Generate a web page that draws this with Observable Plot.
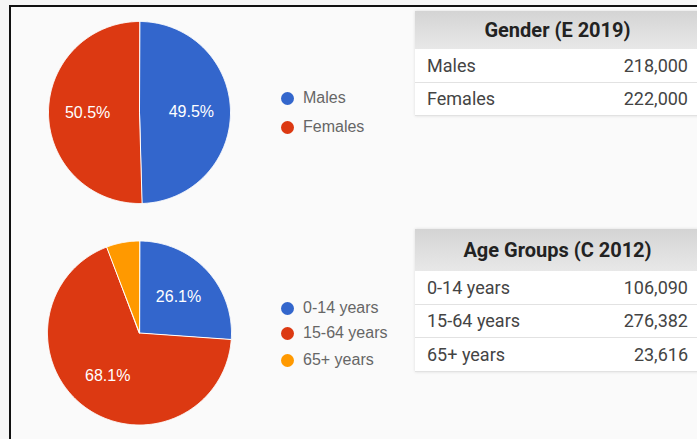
<!DOCTYPE html>
<html><head><meta charset="utf-8">
<script src="https://cdn.jsdelivr.net/npm/d3@7"></script>
<script src="https://cdn.jsdelivr.net/npm/@observablehq/plot@0.6"></script>
<style>
html,body{margin:0;padding:0}
body{width:697px;height:439px;overflow:hidden;background:#f6f6f6;position:relative;font-family:"Liberation Sans",Arial,sans-serif}
#frame{position:absolute;left:9px;top:5px;width:720px;height:460px;border-top:2px solid #111;border-left:2px solid #111;background:#fafafa}
.pie{position:absolute;left:0}
.li{position:absolute;left:303px;font-size:16px;color:#666;line-height:16px;white-space:nowrap}
.dot{position:absolute;width:13px;height:13px;border-radius:50%}
.tbl{position:absolute;left:415px;width:285px;background:#fff;box-shadow:0 0 3px rgba(0,0,0,0.12);font-family:Roboto,sans-serif}
.hd{background:linear-gradient(#d4d4d4,#e8e8e8);font-weight:bold;color:#222;text-align:center;font-size:20px;display:flex;align-items:center;justify-content:center}
.row{display:flex;justify-content:space-between;align-items:center;padding:0 12px;font-size:18px;color:#444;border-bottom:1px solid #e2e2e2;box-sizing:border-box}
</style></head>
<body>
<div id="frame"></div>
<div id="root"></div>
<script>
const genderTitle = "Gender (E 2019)";
const genderLabels = ["Males", "Females"];
const genderValues = [218000, 222000];
const genderColors = ["#3366cc", "#dc3912"];

const ageTitle = "Age Groups (C 2012)";
const ageLabels = ["0-14 years", "15-64 years", "65+ years"];
const ageValues = [106090, 276382, 23616];
const ageColors = ["#3366cc", "#dc3912", "#ff9900"];

const root = document.getElementById("root");

function piePlot(labels, values, colors, opt) {
  const arcs = d3.pie().sort(null).value(d => d)(values);
  const total = d3.sum(values);
  const poly = [];
  arcs.forEach((a, i) => {
    poly.push({key: labels[i], x: 0, y: 0});
    const n = Math.max(2, Math.ceil((a.endAngle - a.startAngle) / 0.01));
    for (let k = 0; k <= n; k++) {
      const t = a.startAngle + (a.endAngle - a.startAngle) * k / n;
      poly.push({key: labels[i], x: Math.sin(t), y: Math.cos(t)});
    }
  });
  const lab = arcs.map((a, i) => {
    const m = (a.startAngle + a.endAngle) / 2;
    return {x: opt.lr * Math.sin(m), y: opt.lr * Math.cos(m), share: a.value / total, text: d3.format(".1%")(a.value / total)};
  }).filter(d => d.share > 0.1);
  return Plot.plot({
    width: 260, height: 220, margin: 0,
    x: {domain: [-1, 1], range: [opt.cx - opt.r, opt.cx + opt.r], axis: null},
    y: {domain: [-1, 1], range: [opt.cy + opt.r, opt.cy - opt.r], axis: null},
    color: {domain: labels, range: colors},
    style: {background: "transparent", overflow: "visible", fontFamily: "'Liberation Sans', Arial, sans-serif"},
    marks: [
      Plot.line(poly, {x: "x", y: "y", z: "key", fill: "key", stroke: "white", strokeWidth: 1, curve: "linear-closed"}),
      Plot.text(lab, {x: "x", y: "y", text: "text", fill: "white", fontSize: 16})
    ]
  });
}

function addPie(top, labels, values, colors, opt) {
  const wrap = document.createElement("div");
  wrap.className = "pie";
  wrap.style.top = top + "px";
  wrap.appendChild(piePlot(labels, values, colors, opt));
  root.appendChild(wrap);
}

function addLegend(labels, colors, ys) {
  labels.forEach((l, i) => {
    const d = document.createElement("div");
    d.className = "dot";
    d.style.left = (287 - 6.5) + "px";
    d.style.top = (ys[i] - 6.5) + "px";
    d.style.background = colors[i];
    root.appendChild(d);
    const t = document.createElement("div");
    t.className = "li";
    t.style.top = (ys[i] - 8) + "px";
    t.textContent = l;
    root.appendChild(t);
  });
}

function addTable(top, title, labels, values, hh, rh) {
  const t = document.createElement("div");
  t.className = "tbl";
  t.style.top = top + "px";
  const h = document.createElement("div");
  h.className = "hd";
  h.style.height = hh + "px";
  h.textContent = title;
  t.appendChild(h);
  labels.forEach((l, i) => {
    const r = document.createElement("div");
    r.className = "row";
    r.style.height = rh + "px";
    const a = document.createElement("span"); a.textContent = l;
    const b = document.createElement("span"); b.textContent = d3.format(",")(values[i]);
    r.appendChild(a); r.appendChild(b);
    t.appendChild(r);
  });
  root.appendChild(t);
}

addPie(0, genderLabels, genderValues, genderColors, {cx: 139, cy: 112, r: 91, lr: 0.57});
addPie(215, ageLabels, ageValues, ageColors, {cx: 139, cy: 117.5, r: 92, lr: 0.58});
addLegend(genderLabels, genderColors, [98, 127]);
addLegend(ageLabels, ageColors, [308, 333, 360]);
addTable(11, genderTitle, genderLabels, genderValues, 38, 33.5);
addTable(229, ageTitle, ageLabels, ageValues, 42, 33.5);
</script>
</body></html>
